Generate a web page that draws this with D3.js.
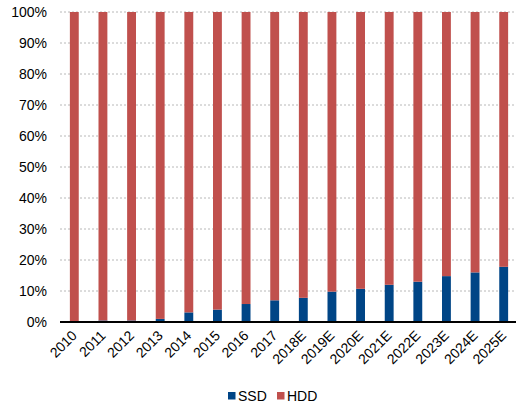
<!DOCTYPE html>
<html>
<head>
<meta charset="utf-8">
<script src="https://cdn.jsdelivr.net/npm/d3@7"></script>
<style>
  html, body { margin: 0; padding: 0; background: #fff; }
  svg { display: block; font-family: "Liberation Sans", Arial, sans-serif; }
</style>
</head>
<body>
<svg id="chart" width="516" height="408"></svg>
<script>
// Storage shipment mix by year (share of units, %)
const years = ["2010","2011","2012","2013","2014","2015","2016","2017",
               "2018E","2019E","2020E","2021E","2022E","2023E","2024E","2025E"];
const ssdShare = [0.1, 0.5, 0.5, 1, 3.1, 4, 5.8, 7, 7.8, 9.8, 10.7, 12, 13, 14.8, 16, 17.8];
const hddShare = ssdShare.map(v => 100 - v);
const yTicks = [0, 10, 20, 30, 40, 50, 60, 70, 80, 90, 100];
const seriesNames = ["SSD", "HDD"];
const seriesColors = ["#004586", "#c0504d"];

const svg = d3.select("#chart");
const margin = { left: 60, right: -2, top: 12, bottom: 86 };
const W = 516, H = 408;

const x = d3.scaleBand().domain(years).range([margin.left, W - margin.right]).paddingInner(0.69).paddingOuter(0.345);
const y = d3.scaleLinear().domain([0, 100]).range([H - margin.bottom, margin.top]);

// dotted gridlines
svg.append("g").selectAll("line").data(yTicks.filter(d => d > 0)).join("line")
  .attr("x1", margin.left).attr("x2", 516)
  .attr("y1", d => y(d)).attr("y2", d => y(d))
  .attr("stroke", "#b8b8b8").attr("stroke-width", 1).attr("stroke-dasharray", "2,2");

// stacked bars
const rows = years.map((yr, i) => ({ year: yr, SSD: ssdShare[i], HDD: hddShare[i] }));
const stack = d3.stack().keys(seriesNames)(rows);
svg.append("g").selectAll("g").data(stack).join("g")
  .attr("fill", (d, i) => seriesColors[i])
  .selectAll("rect").data(d => d).join("rect")
  .attr("x", d => x(d.data.year))
  .attr("width", x.bandwidth())
  .attr("y", d => y(d[1]))
  .attr("height", d => y(d[0]) - y(d[1]));

// y axis labels
const yAxis = d3.axisLeft(y).tickValues(yTicks).tickFormat(d => d + "%").tickSize(0).tickPadding(13);
const gy = svg.append("g").attr("transform", `translate(${margin.left},0)`).call(yAxis);
gy.select(".domain").remove();
gy.selectAll("text").attr("font-size", 14).attr("fill", "#000")
  .style("font-family", "'Liberation Sans', Arial, sans-serif");

// x axis, labels rotated 45 degrees and ending under each bar
const xAxis = d3.axisBottom(x).tickSize(0).tickPadding(0);
const gx = svg.append("g").attr("transform", `translate(0,${y(0)})`).call(xAxis);
gx.select(".domain").remove();
gx.selectAll("text").attr("font-size", 14).attr("fill", "#000")
  .style("font-family", "'Liberation Sans', Arial, sans-serif")
  .attr("text-anchor", "end")
  .attr("x", 0).attr("y", 0)
  .attr("dy", "0.35em")
  .attr("transform", "translate(0,11) rotate(-45)");
svg.append("line")
  .attr("x1", margin.left).attr("x2", 516)
  .attr("y1", y(0)).attr("y2", y(0))
  .attr("stroke", "#000").attr("stroke-width", 2);

// legend
const legend = svg.append("g").attr("transform", "translate(228,396)");
const items = legend.selectAll("g").data(seriesNames).join("g")
  .attr("transform", (d, i) => `translate(${i * 49},0)`);
items.append("rect").attr("x", 0).attr("y", -4).attr("width", 7.5).attr("height", 7.5)
  .attr("fill", (d, i) => seriesColors[i]);
items.append("text").attr("x", 10).attr("y", 0).attr("dy", "0.35em")
  .attr("font-size", 14).attr("fill", "#000").text(d => d);
</script>
</body>
</html>
